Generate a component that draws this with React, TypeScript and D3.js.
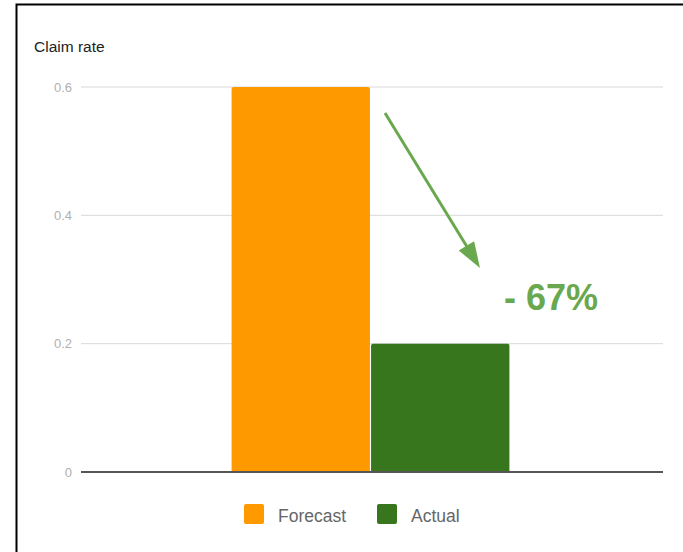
import React from "react";
import * as d3 from "d3";

const seriesNames = ["Forecast", "Actual"];
const seriesValues = [0.6, 0.2];
const seriesColors = ["#ff9900", "#38761d"];
const yTicks = [0, 0.2, 0.4, 0.6];
const chartTitle = "Claim rate";
const changeLabel = "- 67%";

const W = 683;
const H = 552;
const FONT = "'Liberation Sans', Arial, sans-serif";

export default function App() {
  const plotLeft = 81;
  const plotRight = 663;
  const y = d3.scaleLinear().domain([0, 0.6]).range([472, 87]);
  const x0 = d3.scaleBand<string>().domain(["g"]).range([80, 661]).padding(0.353);
  const x1 = d3
    .scaleBand<string>()
    .domain(seriesNames)
    .range([x0("g")!, x0("g")! + x0.bandwidth()])
    .paddingInner(0.008);

  // arrow geometry (annotation)
  const start = [385, 113];
  const tip = [480, 268];
  const dx = tip[0] - start[0];
  const dy = tip[1] - start[1];
  const len = Math.hypot(dx, dy);
  const ux = dx / len;
  const uy = dy / len;
  const headLen = 26;
  const headHalf = 9;
  const bx = tip[0] - ux * headLen;
  const by = tip[1] - uy * headLen;
  const px = -uy * headHalf;
  const py = ux * headHalf;
  const head = `M${tip[0]},${tip[1]}L${bx + px},${by + py}L${bx - px},${by - py}Z`;

  const legendX = [244, 377];

  return (
    <svg
      width={W}
      height={H}
      style={{ position: "absolute", left: 0, top: 0, display: "block", background: "#fff" }}
      fontFamily={FONT}
    >
      <rect x={16.5} y={4.5} width={800} height={700} fill="#fff" stroke="#000" strokeWidth={2} />
      <text x={34} y={52} fontSize={15.5} fill="#222">
        {chartTitle}
      </text>
      {yTicks.map((t) => (
        <g key={t}>
          {t !== 0 && (
            <line x1={plotLeft} x2={plotRight} y1={y(t)} y2={y(t)} stroke="#d9d9d9" strokeWidth={1} />
          )}
          <text x={72} y={y(t) + 4.5} fontSize={13} fill="#b0b0b0" textAnchor="end">
            {t === 0 ? "0" : t.toFixed(1)}
          </text>
        </g>
      ))}
      {seriesNames.map((s, i) => (
        <path
          key={s}
          d={(() => {
            const xL = x1(s)!;
            const w = x1.bandwidth();
            const top = y(seriesValues[i]);
            const bot = y(0);
            const r = 2;
            return `M${xL},${bot}V${top + r}Q${xL},${top} ${xL + r},${top}H${xL + w - r}Q${xL + w},${top} ${xL + w},${top + r}V${bot}Z`;
          })()}
          fill={seriesColors[i]}
        />
      ))}
      <line x1={plotLeft} x2={plotRight} y1={y(0)} y2={y(0)} stroke="#555" strokeWidth={2} />
      {seriesNames.map((s, i) => (
        <g key={s}>
          <rect x={legendX[i]} y={504} width={20} height={20} rx={2} fill={seriesColors[i]} />
          <text x={legendX[i] + 34} y={522} fontSize={17.5} fill="#666">
            {s}
          </text>
        </g>
      ))}
      <line
        x1={start[0]}
        y1={start[1]}
        x2={bx + ux * 2}
        y2={by + uy * 2}
        stroke="#6aa84f"
        strokeWidth={3}
      />
      <path d={head} fill="#6aa84f" />
      <text x={504} y={310} fontSize={36} fontWeight="bold" fill="#6aa84f">
        {changeLabel}
      </text>
    </svg>
  );
}
